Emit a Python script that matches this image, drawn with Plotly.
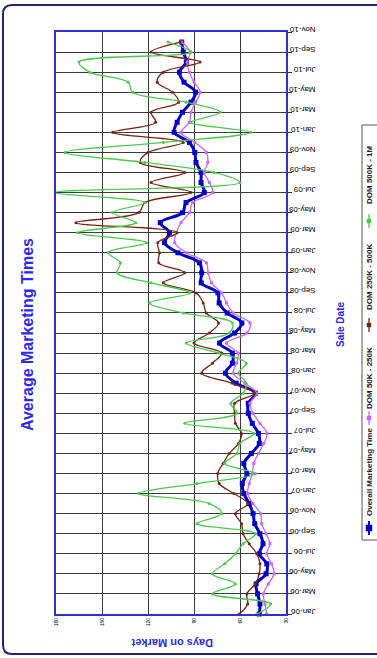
import plotly.graph_objects as go

MON = ["Jan", "Feb", "Mar", "Apr", "May", "Jun", "Jul", "Aug", "Sep", "Oct", "Nov", "Dec"]
categories = [f"{m}-{y:02d}" for y in range(6, 11) for m in MON][:59]  # Jan-06 .. Nov-10
tick_labels = categories[::2]

overall = [47.4, 47, 48.5, 49.5, 43, 42.5, 47.4, 45, 47, 50.4, 51.5, 54,
           57.5, 58.5, 55.5, 57.5, 52.6, 47.4, 48, 52, 54.6, 54.6, 50, 62.5,
           69.5, 65, 65, 73.4, 63.5, 58.8, 68.4, 73.6, 74.4, 85.3, 85, 86.4,
           100.5, 109.2, 106, 112, 97.4, 95.2, 83.3, 85.4, 85.4, 88.7, 89.5, 93,
           103, 101, 97.5, 92, 89, 96.5, 99.5, 95, 97, 98]
dom_50_250 = [42.6, 43.7, 44.8, 41.5, 37.8, 39.4, 42.6, 40.5, 43, 45.9, 46.5, 51.5,
              55, 54, 52, 51, 48, 44.5, 42.3, 47, 51.4, 53.5, 49.2, 56.8,
              64.4, 62.3, 61.2, 68.8, 55.5, 53.5, 64.4, 68.8, 72, 78.6, 80.8, 81.9,
              95, 102.6, 101.5, 98.5, 93, 90.9, 77.8, 80, 83.3, 81, 82, 89.5,
              98.5, 93, 92, 89, 86, 90, 93, 94.5, 92.5, 98]
dom_250_500 = [60.5, 55, 55.5, 50, 47.5, 47, 49, 54, 58, 59, 63, 55,
               64, 73.5, 74.5, 71, 67, 61, 59, 63, 63.5, 63.5, 50.5, 65,
               85, 78, 72, 90, 80, 74, 82, 84, 88.5, 110, 96, 113,
               112.5, 113.6, 101, 167, 126, 122, 92, 118, 96, 125, 120, 97,
               143, 115, 118, 100, 104, 114, 110, 86, 118, 99]
dom_500_1m = [49, 40, 78, 63, 78, 70, 63, 58, 50, 88, 72, 80,
              126, 88, 50, 70, 62, 60, 51, 96, 62, 66, 58, 56,
              61, 56, 74, 95, 67, 65, 97, 119, 93, 118, 140, 138,
              146, 121, 166, 128, 143, 122, 181, 60, 77, 122, 174, 110,
              53, 92, 73, 95, 130, 133, 158, 165, 92, 107]

series_names = ["Overall Marketing Time", "DOM 50K - 250K", "DOM 250K - 500K", "DOM 500K - 1M"]
series_vals = [overall, dom_50_250, dom_250_500, dom_500_1m]
colors = ["#0000CC", "#CC66FF", "#7A2410", "#4CC94C"]
widths = [3, 1.3, 1.3, 1.3]
msizes = [5, 3, 3, 3]
msym = ["square", "square", "circle", "circle"]

FONT = "Liberation Sans, Arial, sans-serif"
W, H = 377, 658
L, R, T, B = 56, 91, 32, 44
PW, PH = W - L - R, H - T - B

def px(x):
    return (x - L) / PW

def py(y):
    return (H - B - y) / PH

fig = go.Figure()
for name, vals, c, w, ms, sym in zip(series_names, series_vals, colors, widths, msizes, msym):
    fig.add_trace(go.Scatter(
        x=vals, y=categories[:len(vals)], mode="lines+markers", name=name,
        line=dict(color=c, width=w, shape="spline", smoothing=1.0),
        marker=dict(color=c, size=ms, symbol=sym),
        cliponaxis=False, showlegend=False))

fig.update_layout(
    width=W, height=H, margin=dict(l=L, r=R, t=T, b=B),
    paper_bgcolor="white", plot_bgcolor="white",
    font=dict(family=FONT, color="black"),
    xaxis=dict(range=[180, 30], tickvals=[30, 60, 90, 120, 150, 180],
               showgrid=True, gridcolor="#3a3a3a", gridwidth=1,
               showline=True, mirror=True, linecolor="#3030D0", linewidth=2,
               tickangle=-90, tickfont=dict(size=5, color="black"),
               ticks="", zeroline=False, fixedrange=True),
    yaxis=dict(type="category", categoryorder="array", categoryarray=categories,
               range=[0, len(categories) - 1], side="right",
               tickvals=tick_labels, ticktext=tick_labels,
               showgrid=True, gridcolor="#3a3a3a", gridwidth=1,
               showline=True, mirror=True, linecolor="#3030D0", linewidth=2,
               ticks="outside", ticklen=4, tickcolor="#333",
               tickangle=180, ticklabelstandoff=22,
               tickfont=dict(size=8, color="black"),
               zeroline=False, fixedrange=True),
)

ann = []
ann.append(dict(text="<b>Average Marketing Times</b>", x=px(28), y=py(335), xref="paper", yref="paper",
                showarrow=False, textangle=-90, xanchor="center", yanchor="middle",
                font=dict(size=16, color="#2B2BF0", family=FONT)))
ann.append(dict(text="<b>Sale Date</b>", x=px(340), y=py(325), xref="paper", yref="paper",
                showarrow=False, textangle=-90, xanchor="center", yanchor="middle",
                font=dict(size=10, color="#2B2BF0", family=FONT)))
ann.append(dict(text="<b>Days on Market</b>", x=px(172), y=py(643), xref="paper", yref="paper",
                showarrow=False, textangle=180, xanchor="center", yanchor="middle",
                font=dict(size=11, color="#2B2BF0", family=FONT)))

shapes = []
# outer rounded frame
x0, x1, y0, y1 = px(3), px(381), py(654), py(5)
rx, ry = 9 / PW, 9 / PH
path = (f"M {x0+rx},{y1} L {x1},{y1} M {x1},{y0} L {x0+rx},{y0} "
        f"Q {x0},{y0} {x0},{y0+ry} L {x0},{y1-ry} Q {x0},{y1} {x0+rx},{y1}")
shapes.append(dict(type="path", path=path, xref="paper", yref="paper",
                   line=dict(color="#23236E", width=2)))
# legend box
shapes.append(dict(type="rect", xref="paper", yref="paper", x0=px(362), x1=px(382),
                   y0=py(540), y1=py(125), line=dict(color="#555", width=1), fillcolor="white"))

leg_items = [  # (symbol center y, text center y)
    (528, 472),
    (418, 378),
    (325, 277),
    (221, 175),
]
lx = 369
for (sy, ty), name, c, w, ms in zip(leg_items, series_names, colors, widths, msizes):
    shapes.append(dict(type="line", xref="paper", yref="paper", x0=px(lx), x1=px(lx),
                       y0=py(sy + 7), y1=py(sy - 7), line=dict(color=c, width=min(w, 2))))
    s = ms / 2 + 0.5
    shapes.append(dict(type="rect", xref="paper", yref="paper", x0=px(lx - s), x1=px(lx + s),
                       y0=py(sy + s), y1=py(sy - s), line=dict(color=c, width=0.5), fillcolor=c))
    ann.append(dict(text=f"<b>{name}</b>", x=px(lx), y=py(ty), xref="paper", yref="paper",
                    showarrow=False, textangle=-90, xanchor="center", yanchor="middle",
                    font=dict(size=8, color="#222", family=FONT)))

fig.update_layout(annotations=ann, shapes=shapes)
fig.write_html("out.html")
